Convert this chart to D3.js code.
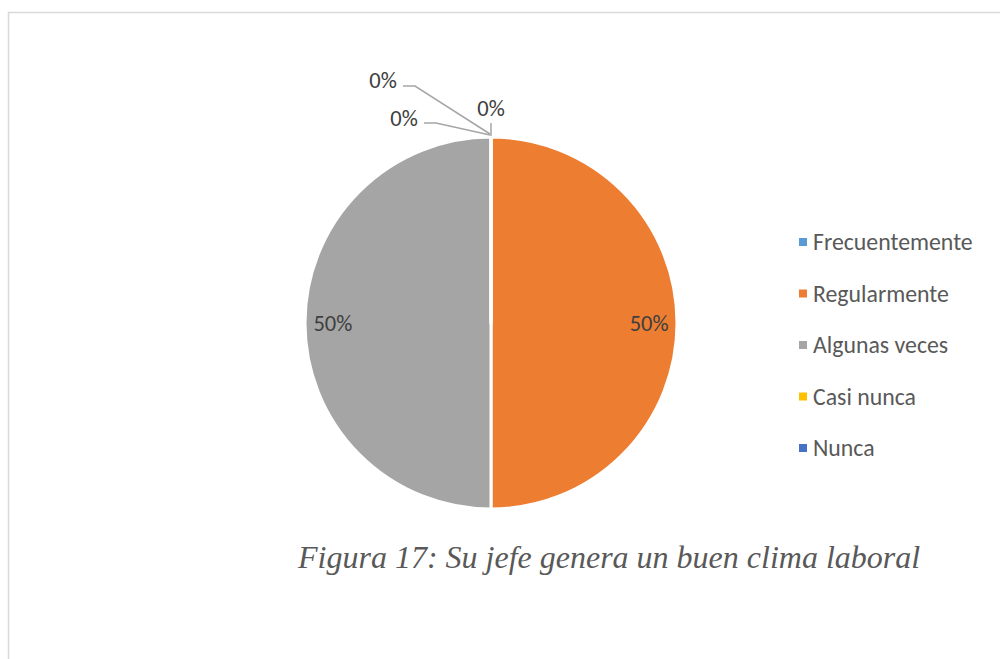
<!DOCTYPE html>
<html>
<head>
<meta charset="utf-8">
<script src="https://cdn.jsdelivr.net/npm/d3@7"></script>
<style>
  html, body { margin: 0; padding: 0; background: #fff; }
  svg { display: block; }
</style>
</head>
<body>
<svg id="chart" width="1000" height="659"></svg>
<script>
// Survey answers for "Su jefe genera un buen clima laboral"
const categories = ["Frecuentemente", "Regularmente", "Algunas veces", "Casi nunca", "Nunca"];
const values = [0, 50, 50, 0, 0];
const colors = ["#5B9BD5", "#ED7D31", "#A5A5A5", "#FFC000", "#4472C4"];
const caption = "Figura 17: Su jefe genera un buen clima laboral";

const svg = d3.select("#chart");
const sans = "Calibri, Carlito, 'Open Sans', 'Noto Sans', sans-serif";

// Frame around the figure
svg.append("path")
  .attr("d", "M8.5,659 L8.5,12.5 L1000,12.5")
  .attr("fill", "none")
  .attr("stroke", "#d9d9d9")
  .attr("stroke-width", 1.5);

const cx = 491, cy = 323, r = 186;
const total = d3.sum(values);
const pct = d3.format(".0%");

const pie = d3.pie().sort(null).value(d => d.v);
const arcs = pie(categories.map((c, i) => ({ c, v: values[i], i })));
const arc = d3.arc().innerRadius(0).outerRadius(r);

const g = svg.append("g").attr("transform", `translate(${cx},${cy})`);

g.selectAll("path.slice")
  .data(arcs)
  .join("path")
  .attr("class", "slice")
  .attr("d", arc)
  .attr("fill", d => colors[d.data.i])
  .attr("stroke", "#fff")
  .attr("stroke-width", 3)
  .attr("stroke-linejoin", "round");

// Labels inside the non-empty slices
const inner = d3.arc().innerRadius(r * 0.85).outerRadius(r * 0.85);
g.selectAll("text.val")
  .data(arcs.filter(d => d.data.v > 0))
  .join("text")
  .attr("class", "val")
  .attr("x", d => inner.centroid(d)[0])
  .attr("y", d => inner.centroid(d)[1])
  .attr("dy", "0.35em")
  .attr("text-anchor", "middle")
  .attr("font-family", sans)
  .attr("font-size", 22.5)
  .attr("fill", "#404040")
  .text(d => pct(d.data.v / total));

// Empty slices get callout labels with leader lines from the rim
const zero = arcs.filter(d => d.data.v === 0);
const edge = d3.arc().innerRadius(r).outerRadius(r);
// callout offsets (label text centre, leader polyline) relative to the rim point, per slice order
const callouts = [
  { tx: 0, ty: -29, line: [[0, -1], [0, -14]] },
  { tx: -87, ty: -19, line: [[-1, -2], [-55, -14], [-67, -14]] },
  { tx: -108, ty: -57, line: [[-1, -3], [-76, -51], [-88, -51]] }
];
zero.forEach((d, k) => {
  const p = edge.centroid({ startAngle: d.startAngle, endAngle: d.startAngle });
  const c = callouts[k];
  g.append("path")
    .attr("d", d3.line()(c.line.map(q => [p[0] + q[0], p[1] + q[1]])))
    .attr("fill", "none")
    .attr("stroke", "#a6a6a6")
    .attr("stroke-width", 1.5);
  g.append("text")
    .attr("x", p[0] + c.tx)
    .attr("y", p[1] + c.ty)
    .attr("dy", "0.35em")
    .attr("text-anchor", "middle")
    .attr("font-family", sans)
    .attr("font-size", 22.5)
    .attr("fill", "#404040")
    .text(pct(d.data.v / (total || 1)));
});

// Legend
const legend = svg.append("g").attr("transform", "translate(799,242)");
const item = legend.selectAll("g")
  .data(categories)
  .join("g")
  .attr("transform", (d, i) => `translate(0,${i * 51.5})`);
item.append("rect")
  .attr("x", 0).attr("y", -4)
  .attr("width", 8).attr("height", 8)
  .attr("fill", (d, i) => colors[i]);
item.append("text")
  .attr("x", 14)
  .attr("y", 0)
  .attr("dy", "0.35em")
  .attr("font-family", sans)
  .attr("font-size", 23.8)
  .attr("fill", "#595959")
  .text(d => d);

// Caption
svg.append("text")
  .attr("x", 298)
  .attr("y", 568)
  .attr("font-family", "'Liberation Serif', 'Times New Roman', serif")
  .attr("font-style", "italic")
  .attr("font-size", 32)
  .attr("fill", "#595959")
  .text(caption);
</script>
</body>
</html>
